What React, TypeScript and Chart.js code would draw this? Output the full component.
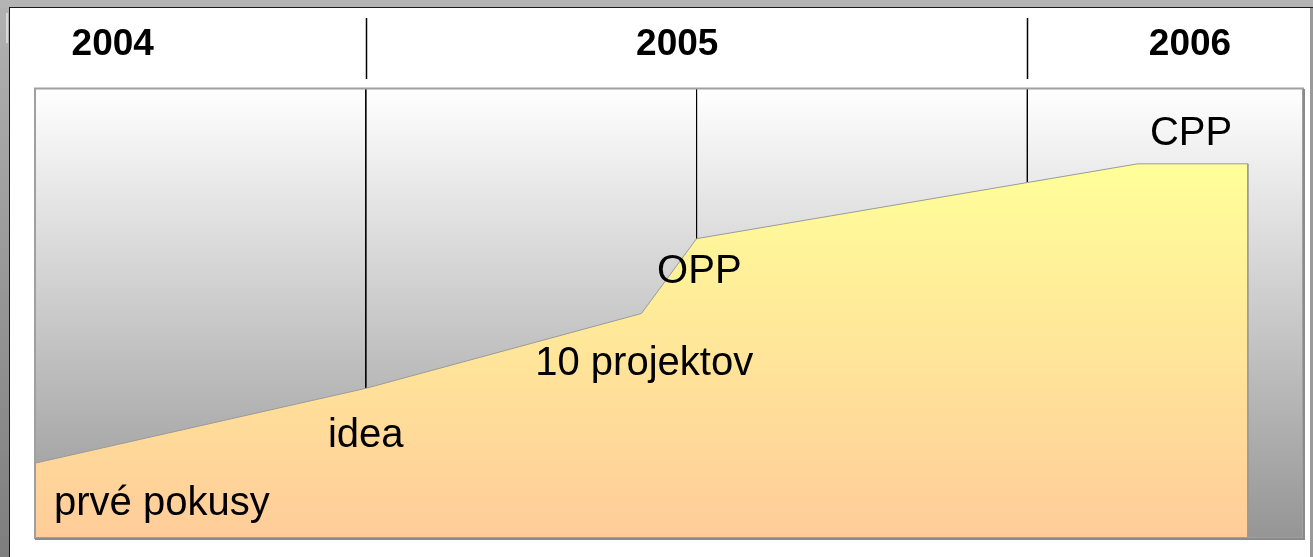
import React, { useEffect, useRef } from "react";
import { Chart, registerables } from "chart.js";

Chart.register(...registerables);

// Timeline data (x in months from the start, y in "progress" levels)
const milestoneX = [0, 6, 11, 12, 20, 22];
const milestoneY = [1, 2, 3, 4, 5, 5];

const milestoneLabels = ["prvé pokusy", "idea", "10 projektov", "OPP", "CPP"];
const labelX = [2.3, 6.0, 11.05, 12.05, 20.97];
const labelY = [0.31, 1.22, 2.18, 3.41, 5.25];

const markerX = [6, 12, 18];
const markerBottom = [2, 4, 4.75];

const years = ["2004", "2005", "2006"];
const yearLabelX = [1.41, 11.65, 20.95];
const yearBoundaryX = [6, 18];

const X_MIN = 0;
const X_MAX = 23;
const Y_MIN = 0;
const Y_MAX = 6;

const W = 1313;
const H = 557;

export default function App() {
  const ref = useRef<HTMLCanvasElement | null>(null);

  useEffect(() => {
    document.body.style.margin = "0";
    const canvas = ref.current;
    if (!canvas) return;

    const areaData = milestoneX.map((x, i) => ({ x, y: milestoneY[i] }));
    areaData.push({ x: milestoneX[milestoneX.length - 1], y: 0 });

    const markerSets = markerX.map((x, i) => ({
      type: "line" as const,
      data: [
        { x, y: Y_MAX },
        { x, y: markerBottom[i] },
      ],
      borderColor: "#000000",
      borderWidth: 1,
      pointRadius: 0,
      fill: false,
      tension: 0,
    }));

    const framePlugin = {
      id: "frame",
      beforeDraw(chart: any) {
        const ctx = chart.ctx as CanvasRenderingContext2D;
        const ca = chart.chartArea;
        ctx.save();
        // outer gray frame
        ctx.fillStyle = "#b4b4b4";
        ctx.fillRect(0, 0, W, H);
        const lg = ctx.createLinearGradient(0, 0, 0, H);
        lg.addColorStop(0, "#b2b2b2");
        lg.addColorStop(1, "#7e7e7e");
        ctx.fillStyle = lg;
        ctx.fillRect(0, 8, 9, H - 8);
        ctx.fillStyle = "#d8d8d8";
        ctx.fillRect(6, 13, 2, 30);
        // white panel
        ctx.fillStyle = "#ffffff";
        ctx.fillRect(10, 8, 1300, H - 8);
        ctx.fillStyle = "#9a9a9a";
        ctx.fillRect(1310, 8, 3, H - 8);
        // dark edges
        ctx.fillStyle = "#1a1a1a";
        ctx.fillRect(9, 7, W - 9, 1);
        ctx.fillRect(9, 7, 1, H - 7);
        // plot background gradient
        const g = ctx.createLinearGradient(0, ca.top, 0, ca.bottom);
        g.addColorStop(0, "#ffffff");
        g.addColorStop(1, "#959595");
        ctx.fillStyle = g;
        ctx.fillRect(ca.left, ca.top, ca.right - ca.left, ca.bottom - ca.top);
        ctx.restore();
      },
      afterDatasetsDraw(chart: any) {
        const ctx = chart.ctx as CanvasRenderingContext2D;
        const ca = chart.chartArea;
        const xs = chart.scales.x;
        const ys = chart.scales.y;
        ctx.save();
        // milestone labels
        ctx.fillStyle = "#000000";
        ctx.textAlign = "center";
        ctx.textBaseline = "alphabetic";
        ctx.font = "40px 'Liberation Sans', Arial, sans-serif";
        milestoneLabels.forEach((t, i) => {
          ctx.fillText(t, xs.getPixelForValue(labelX[i]), ys.getPixelForValue(labelY[i]));
        });
        // year labels
        ctx.font = "bold 37px 'Liberation Sans', Arial, sans-serif";
        years.forEach((t, i) => {
          ctx.fillText(t, xs.getPixelForValue(yearLabelX[i]), ca.top - 34);
        });
        // year boundary lines
        ctx.strokeStyle = "#000000";
        ctx.lineWidth = 1.5;
        yearBoundaryX.forEach((x) => {
          const px = Math.round(xs.getPixelForValue(x)) + 0.5;
          ctx.beginPath();
          ctx.moveTo(px, ca.top - 71);
          ctx.lineTo(px, ca.top - 10);
          ctx.stroke();
        });
        // plot border
        ctx.strokeStyle = "#a0a0a0";
        ctx.lineWidth = 2;
        ctx.strokeRect(ca.left, ca.top - 0.5, ca.right - ca.left, ca.bottom - ca.top + 0.5);
        ctx.strokeStyle = "#8a8a8a";
        ctx.beginPath();
        ctx.moveTo(ca.right + 1, ca.top);
        ctx.lineTo(ca.right + 1, ca.bottom + 1);
        ctx.lineTo(ca.left, ca.bottom + 1);
        ctx.stroke();
        ctx.restore();
      },
    };

    const chart = new Chart(canvas, {
      type: "line",
      data: {
        datasets: [
          {
            data: areaData,
            borderColor: "#9a9a9a",
            borderWidth: 1,
            pointRadius: 0,
            tension: 0,
            fill: "origin",
            backgroundColor: (c: any) => {
              const ch = c.chart;
              const ca = ch.chartArea;
              if (!ca) return "#ffee99";
              const top = ch.scales.y.getPixelForValue(Math.max(...milestoneY));
              const g = ch.ctx.createLinearGradient(0, top, 0, ca.bottom);
              g.addColorStop(0, "#ffff99");
              g.addColorStop(1, "#ffcc99");
              return g;
            },
          },
          ...markerSets,
        ] as any,
      },
      options: {
        animation: false,
        responsive: false,
        maintainAspectRatio: false,
        layout: { padding: { left: 35, top: 89, right: 10, bottom: 19 } },
        plugins: {
          legend: { display: false },
          tooltip: { enabled: false },
          title: { display: false },
        },
        scales: {
          x: { type: "linear", min: X_MIN, max: X_MAX, display: false },
          y: { type: "linear", min: Y_MIN, max: Y_MAX, display: false },
        },
      },
      plugins: [framePlugin],
    });

    return () => chart.destroy();
  }, []);

  return (
    <div style={{ width: W, height: H, position: "relative" }}>
      <canvas ref={ref} width={W} height={H} style={{ display: "block", width: W, height: H }} />
    </div>
  );
}
